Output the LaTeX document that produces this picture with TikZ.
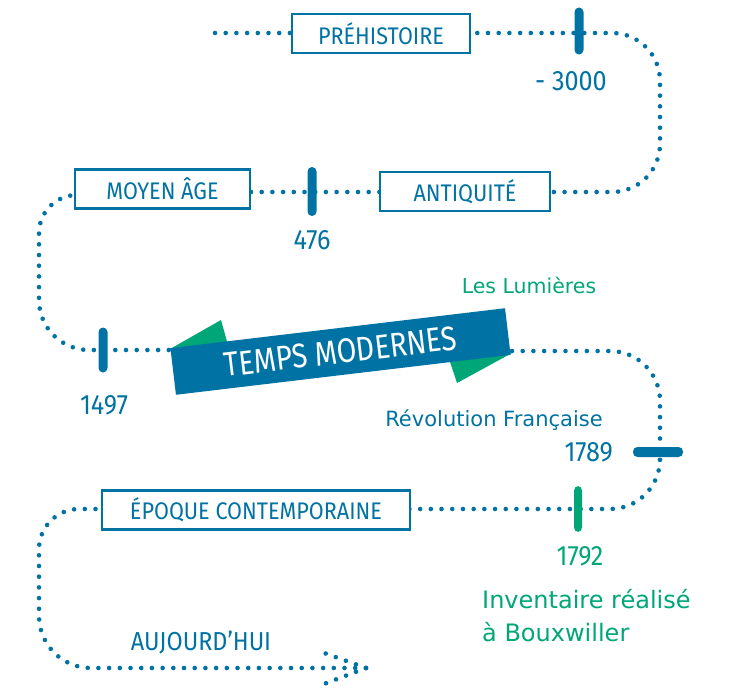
\documentclass[tikz,border=0pt]{standalone}
\usepackage{fontspec}
\setmainfont{Fira Sans}[FakeStretch=0.9]
\newfontfamily\bannerfont{Fira Sans}[FakeStretch=0.84]
\newfontfamily\evfont{DejaVu Sans}
\usetikzlibrary{backgrounds}
\definecolor{tblue}{RGB}{0,114,163}
\definecolor{tgreen}{RGB}{0,166,120}
\tikzset{
  dotline/.style={draw=tblue, line width=4.6pt, line cap=round, dash pattern=on 0pt off 10.7pt},
  era/.style={draw=tblue, line width=2.4pt, fill=white, inner sep=0pt, text=tblue, font=\fontsize{24}{27}\selectfont},
  tickbar/.style={fill=tblue, rounded corners=4.5pt, inner sep=0pt, minimum width=9pt},
  yearlbl/.style={text=tblue, inner sep=0pt, font=\fontsize{28}{30}\selectfont},
  eventlbl/.style={inner sep=0pt},
}
\begin{document}
\begin{tikzpicture}[x=1pt,y=-1pt]
\path[use as bounding box] (0,0) rectangle (732,693);
% coordinates
\coordinate (start) at (215,33);
\coordinate (tip) at (366,668);
\coordinate (armA) at (316,650);
\coordinate (armB) at (316,687);
\coordinate (bL) at (171,350);
\coordinate (bR) at (512,351);
% era boxes
\node[era, minimum width=178pt, minimum height=39pt] (pre) at (381,33.5) {PRÉHISTOIRE};
\node[era, minimum width=175pt, minimum height=39pt] (moyen) at (162.5,189) {MOYEN ÂGE};
\node[era, minimum width=170pt, minimum height=39pt] (anti) at (465,191.5) {ANTIQUITÉ};
\node[era, minimum width=308pt, minimum height=39pt] (epoque) at (256,510) {ÉPOQUE CONTEMPORAINE};
% connectors
\begin{scope}[on background layer]
\draw[dotline] (start) -- (pre.center |- start);
\draw[dotline, rounded corners=48pt] (pre.center |- start) -- (660,33) -- (660,192) -- (anti.center |- 0,192);
\draw[dotline] (anti.center |- 0,192) -- (moyen.center |- 0,192);
\draw[dotline] (moyen.center |- 0,195) -- (75,195) [rounded corners=38pt] -- (39,195) [rounded corners=50pt] -- (39,350) -- (bL);
\draw[dotline, rounded corners=50pt] (bR) -- (660,351) -- (660,509) -- (epoque.center |- 0,509);
\draw[dotline] (epoque.center |- 0,509) -- (103,509) [rounded corners=40pt] -- (39,509) [rounded corners=52pt] -- (39,668) -- (tip);
\end{scope}
\draw[dotline] (tip) -- (armA);
\draw[dotline] (tip) -- (armB);
% banner
\fill[tgreen] (170,349) -- (221,320) -- (228,345) -- cycle;
\fill[tgreen] (512,353) -- (457,383) -- (450,362) -- cycle;
\node[fill=tblue, rotate=6.8, minimum width=337pt, minimum height=47pt, inner sep=0pt, text=white, font=\bannerfont\fontsize{34}{36}\selectfont] (banner) at (340.5,351.5) {TEMPS MODERNES};
% ticks
\node[tickbar, minimum height=47pt] (t3000) at (579,31) {};
\node[tickbar, minimum height=49pt] (t476) at (312,191.5) {};
\node[tickbar, minimum height=45pt] (t1497) at (103,350) {};
\node[tickbar, minimum width=50pt, minimum height=10pt] (t1789) at (658,452) {};
\node[tickbar, fill=tgreen, minimum width=8pt, minimum height=46pt] (t1792) at (578,509) {};
% labels
\node[yearlbl] (l3000) at (571,81) {- 3000};
\node[yearlbl] (l476) at (312,240) {476};
\node[yearlbl] (l1497) at (104,405) {1497};
\node[yearlbl, anchor=east] (l1789) at (613,452) {1789};
\node[yearlbl, text=tgreen] (l1792) at (580,556) {1792};
\node[eventlbl, text=tgreen, font=\evfont\fontsize{20.5}{24}\selectfont] (lum) at (529,285) {Les Lumières};
\node[eventlbl, text=tblue, font=\evfont\fontsize{21}{24}\selectfont] (rev) at (494,420) {Révolution Française};
\node[text=tgreen, inner sep=0pt, anchor=west, align=left, font=\evfont\fontsize{24}{33}\selectfont] (inv) at (482,616) {Inventaire réalisé\\à Bouxwiller};
\node[text=tblue, inner sep=0pt, font=\fontsize{26}{28}\selectfont] (auj) at (201,642.5) {AUJOURD’HUI};
\end{tikzpicture}
\end{document}
